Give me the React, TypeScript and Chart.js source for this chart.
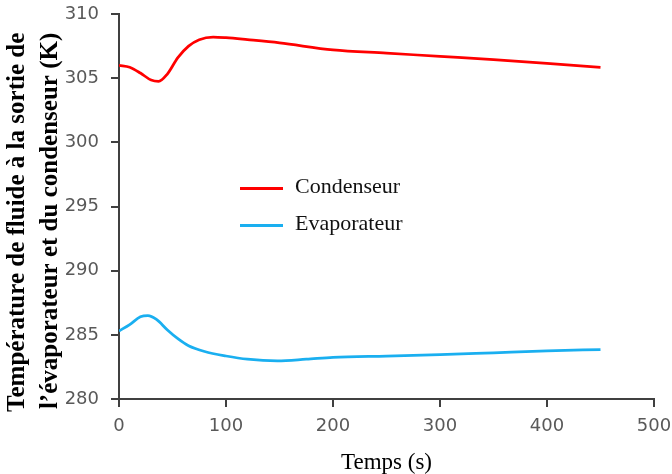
import React, { useEffect, useRef } from "react";
import { Chart, registerables } from "chart.js";

Chart.register(...registerables);

const condTime = [0, 10, 20, 30, 37, 45, 55, 65, 75, 88, 100, 120, 150, 200, 250, 300, 350, 400, 450];
const condTemp = [306.0, 305.85, 305.4, 304.85, 304.75, 305.3, 306.6, 307.5, 308.0, 308.2, 308.15, 308.0, 307.75, 307.2, 306.95, 306.7, 306.45, 306.15, 305.85];

const evapTime = [0, 10, 20, 27, 35, 45, 55, 65, 80, 100, 120, 148, 175, 200, 250, 300, 350, 400, 450];
const evapTemp = [285.3, 285.8, 286.4, 286.5, 286.2, 285.4, 284.7, 284.15, 283.7, 283.35, 283.1, 282.97, 283.1, 283.25, 283.35, 283.45, 283.6, 283.75, 283.85];

const seriesNames = ["Condenseur", "Evaporateur"];
const seriesColors = ["#ff0000", "#1aaff0"];
const xTitle = "Temps (s)";
const yTitle = ["Température de fluide à la sortie de   ", "l’évaporateur et du condenseur (K)   "];

export default function App() {
  const ref = useRef<HTMLCanvasElement | null>(null);
  useEffect(() => {
    if (!ref.current) return;
    const axisColor = "#404040";
    const tickFont = { family: "DejaVu Sans", size: 18 };
    const chart = new Chart(ref.current, {
      type: "line",
      data: {
        datasets: [
          {
            label: seriesNames[0],
            data: condTime.map((t, i) => ({ x: t, y: condTemp[i] })),
            borderColor: seriesColors[0],
            borderWidth: 2.75,
            pointRadius: 0,
            cubicInterpolationMode: "monotone",
            fill: false,
          },
          {
            label: seriesNames[1],
            data: evapTime.map((t, i) => ({ x: t, y: evapTemp[i] })),
            borderColor: seriesColors[1],
            borderWidth: 2.75,
            pointRadius: 0,
            cubicInterpolationMode: "monotone",
            fill: false,
          },
        ],
      },
      options: {
        animation: false,
        responsive: true,
        maintainAspectRatio: false,
        layout: { padding: { top: 14, right: 18, left: 0, bottom: 0 } },
        plugins: { legend: { display: false }, tooltip: { enabled: false } },
        scales: {
          x: {
            type: "linear",
            min: 0,
            max: 500,
            ticks: { stepSize: 100, color: "#595959", font: tickFont, padding: 9 },
            grid: { drawOnChartArea: false, drawTicks: true, tickLength: 8, color: axisColor, lineWidth: 2 },
            border: { display: true, color: axisColor, width: 2 },
            title: {
              display: true,
              text: xTitle,
              color: "#000",
              font: { family: "Liberation Serif", size: 23, lineHeight: 1 },
              padding: { top: 0, bottom: 0 },
            },
            afterFit: (s: any) => {
              s.height = 75;
              s.paddingLeft = 0;
              s.paddingRight = 0;
            },
          },
          y: {
            min: 280,
            max: 310,
            ticks: { stepSize: 5, color: "#595959", font: tickFont, padding: 12 },
            grid: { drawOnChartArea: false, drawTicks: true, tickLength: 8, color: axisColor, lineWidth: 2 },
            border: { display: true, color: axisColor, width: 2 },
            title: {
              display: true,
              text: yTitle,
              align: "end",
              color: "#000",
              font: { family: "Liberation Serif", size: 25, weight: "bold", lineHeight: 1.32 },
              padding: { top: 1.5, bottom: 0 },
            },
            afterFit: (s: any) => {
              s.width = 119;
              s.paddingTop = 0;
              s.paddingBottom = 0;
            },
          },
        },
      },
    } as any);
    return () => chart.destroy();
  }, []);

  const legendItem = (i: number, top: number) => (
    <div
      key={i}
      style={{ position: "absolute", left: 240, top, height: 26, display: "flex", alignItems: "center" }}
    >
      <div style={{ width: 43, height: 3, background: seriesColors[i], marginTop: 4 }} />
      <span
        style={{
          marginLeft: 12,
          fontFamily: "Liberation Serif",
          fontSize: 22,
          color: "#111",
          lineHeight: "26px",
          whiteSpace: "nowrap",
        }}
      >
        {seriesNames[i]}
      </span>
    </div>
  );

  return (
    <div style={{ position: "fixed", left: 0, top: 0, width: 672, height: 474, background: "#fff" }}>
      <canvas ref={ref} />
      {legendItem(0, 173)}
      {legendItem(1, 210)}
    </div>
  );
}
